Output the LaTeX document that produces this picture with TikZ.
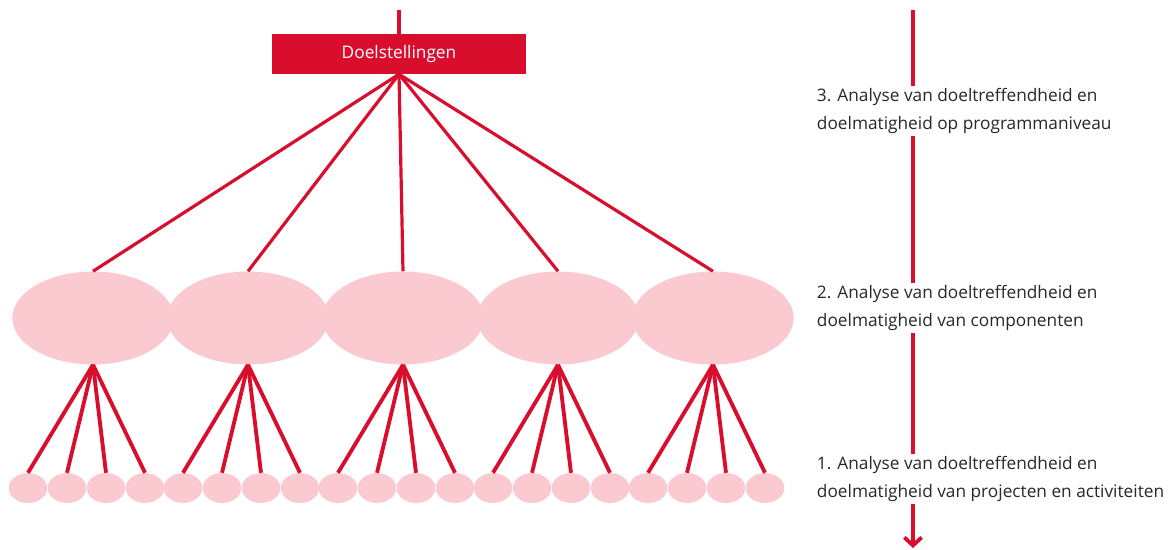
\documentclass[tikz,border=0pt]{standalone}
\usepackage{fontspec}
\setmainfont{Open Sans}
\usetikzlibrary{shapes.geometric,arrows.meta}
\definecolor{brandred}{RGB}{217,14,44}
\definecolor{pinkfill}{RGB}{251,201,208}
\definecolor{labelgray}{RGB}{40,40,40}
\begin{document}
\begin{tikzpicture}[x=0.02646cm,y=-0.02646cm,
  toplink/.style={draw=brandred,line width=2.4pt},
  fanlink/.style={draw=brandred,line width=2.9pt},
  goalbox/.style={rectangle,fill=brandred,text=white,minimum width=190.5pt,minimum height=30pt,inner sep=0pt,font=\fontsize{13}{15}\selectfont},
  bigell/.style={ellipse,fill=pinkfill,minimum width=121.5pt,minimum height=70pt,inner sep=0pt},
  smallell/.style={ellipse,fill=pinkfill,minimum width=29pt,minimum height=22.5pt,inner sep=0pt},
  levellabel/.style={anchor=west,fill=white,align=left,inner sep=2pt,text=labelgray,font=\fontsize{13}{20.5}\selectfont},
  levelarrow/.style={draw=brandred,line width=2.9pt,-{Straight Barb[length=6pt,width=13pt]}}]
\useasboundingbox (0,0) rectangle (1171,549);
% top
\coordinate (gtop) at (399,10);
\node[goalbox] (goal) at (399,54) {\raisebox{-2pt}{Doelstellingen}};
\draw[toplink] (gtop) -- (goal.north);
% big ellipses and small ones
\foreach \c in {0,...,4}{
  \pgfmathsetmacro{\cx}{93+155*\c}
  \node[bigell] (c\c) at (\cx,318) {};
}
\foreach \c in {0,...,4}{
  \draw[toplink] (goal.south) -- (c\c.north);
  \foreach \s/\dx in {0/-65,1/-26,2/13,3/52}{
    \pgfmathsetmacro{\sx}{93+155*\c+\dx}
    \node[smallell] (s\c-\s) at (\sx,488) {};
    \draw[fanlink] (c\c.south) -- (s\c-\s.north);
  }
}
% right arrow with labels
\coordinate (atop) at (913,10);
\coordinate (abot) at (913,548);
\draw[levelarrow] (atop) -- (abot);
\node[levellabel] (l3) at (814,111) {3. Analyse van doeltreffendheid en\\doelmatigheid op programmaniveau};
\node[levellabel] (l2) at (814,308) {2. Analyse van doeltreffendheid en\\doelmatigheid van componenten};
\node[levellabel] (l1) at (814,479) {1. Analyse van doeltreffendheid en\\doelmatigheid van projecten en activiteiten};
\end{tikzpicture}
\end{document}
